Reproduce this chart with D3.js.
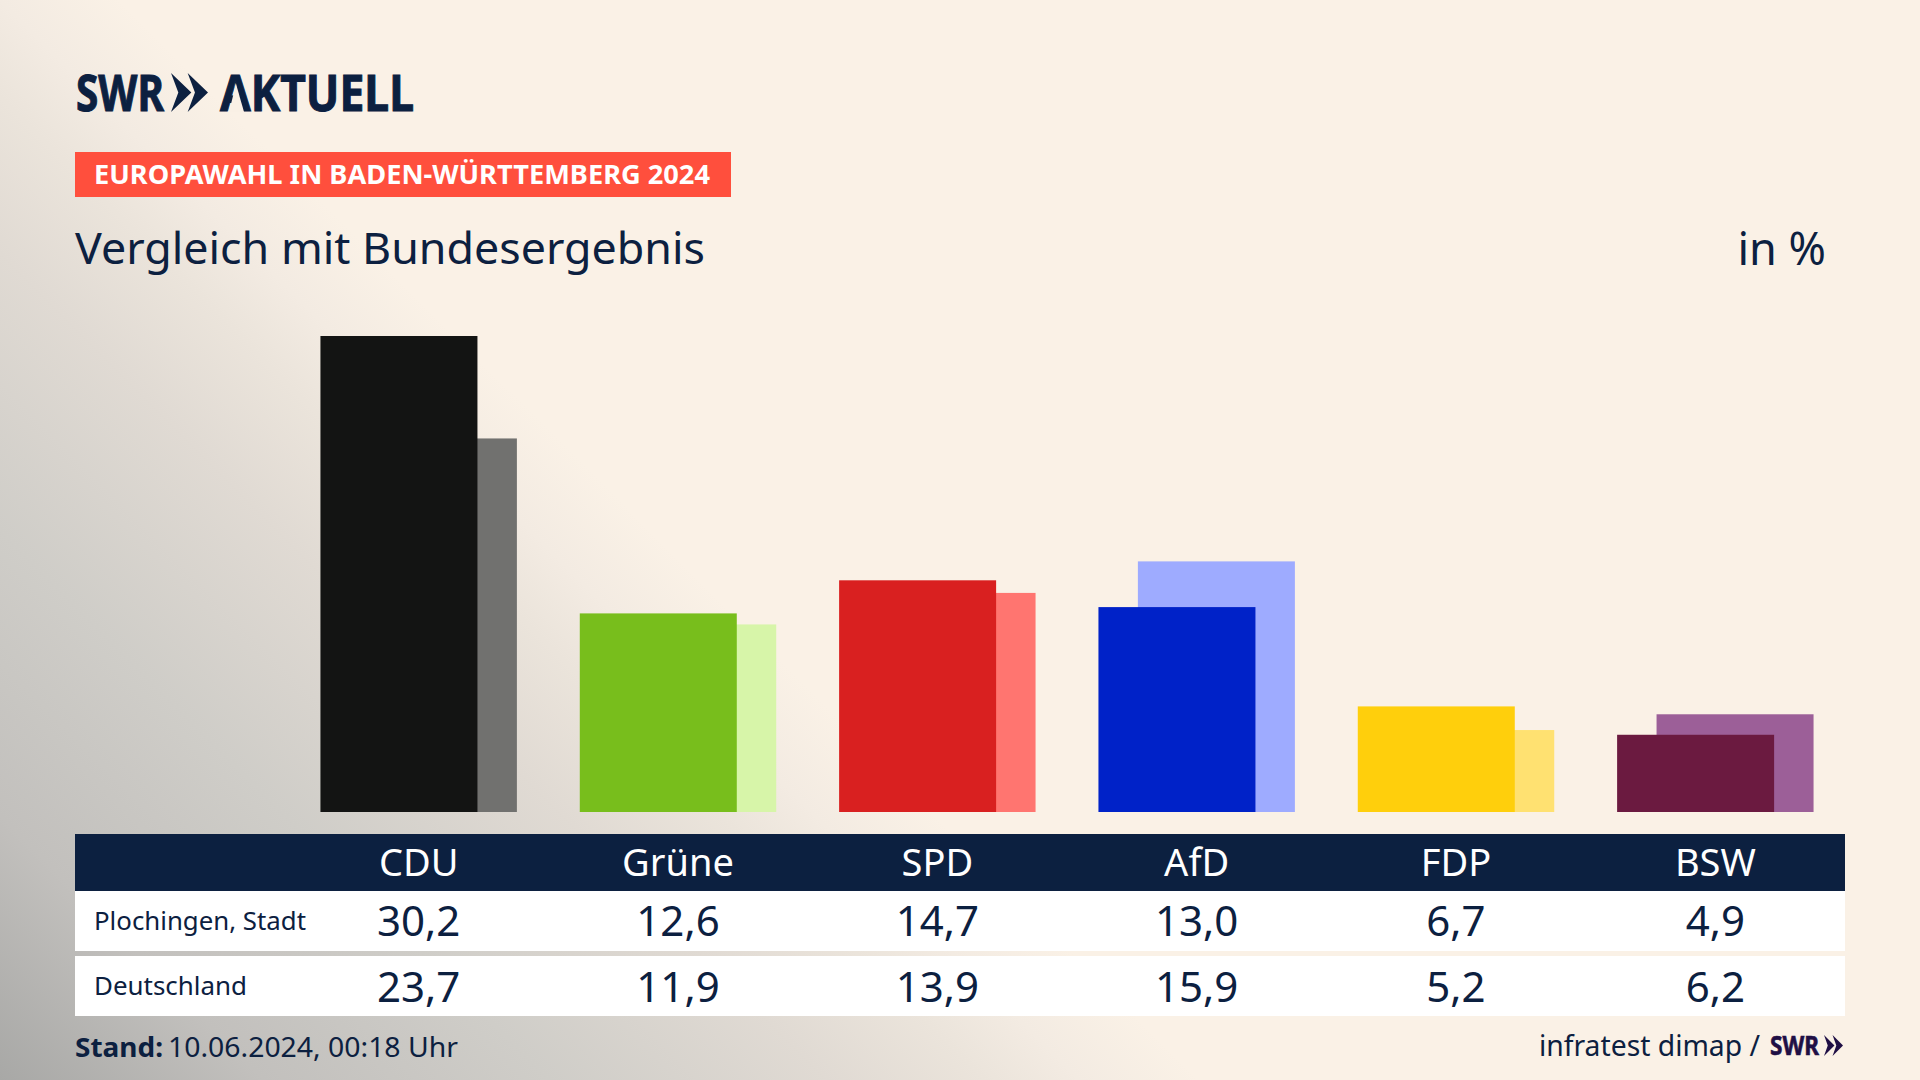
<!DOCTYPE html>
<html lang="de">
<head>
<meta charset="UTF-8">
<title>Europawahl in Baden-Württemberg 2024</title>
<script src="https://d3js.org/d3.v7.min.js"></script>
<style>
    html, body { margin: 0; padding: 0; background: #faf1e6; }
    svg { display: block; font-family: "Noto Sans", sans-serif; }
</style>
</head>
<body>
<svg id="chart" width="1920" height="1080"></svg>
<script>
    const parties = ["CDU", "Grüne", "SPD", "AfD", "FDP", "BSW"];
    const localName = "Plochingen, Stadt";
    const nationalName = "Deutschland";
    const localValues = [30.2, 12.6, 14.7, 13.0, 6.7, 4.9];
    const nationalValues = [23.7, 11.9, 13.9, 15.9, 5.2, 6.2];

    const darkColors = ["#131413", "#78be1c", "#d92020", "#0022c8", "#ffcf0c", "#6b1a40"];
    const lightColors = ["#71716f", "#d7f5a9", "#ff7570", "#9eabff", "#ffe171", "#9c5f98"];

    const navy = "#0c2040";
    const barWidth = 157;

    const svg = d3.select("#chart");
    const comma = d3.formatLocale({decimal: ",", thousands: ".", grouping: [3], currency: ["", "€"]}).format(".1f");

    // background, grey coming in diagonally from the bottom left
    const grad = svg.append("defs").append("linearGradient")
        .attr("id", "bg")
        .attr("gradientUnits", "userSpaceOnUse")
        .attr("x1", 0).attr("y1", 1080).attr("x2", 600).attr("y2", 480);
    [[0, "#a8a8a6"], [0.22, "#c2c0bd"], [0.458, "#cfcdc8"], [0.69, "#e0dad3"], [0.82, "#ebe4db"], [0.9, "#f3ebe2"], [1, "#faf1e6"]].forEach(s => {
        grad.append("stop").attr("offset", s[0]).attr("stop-color", s[1]);
    });
    svg.append("rect").attr("width", 1920).attr("height", 1080).attr("fill", "url(#bg)");

    const x = d3.scaleBand()
        .domain(parties)
        .range([289, 1845])
        .paddingInner(0.2425)
        .paddingOuter(0.12125);

    const y = d3.scaleLinear()
        .domain([0, 30.2])
        .range([812, 336]);

    const light = d3.scaleOrdinal(parties, lightColors);
    const dark = d3.scaleOrdinal(parties, darkColors);

    // national bars sit behind, shifted to the right edge of the band
    svg.append("g").selectAll("rect")
        .data(parties)
        .join("rect")
        .attr("x", d => x(d) + x.bandwidth() - barWidth)
        .attr("y", (d, i) => y(nationalValues[i]))
        .attr("width", barWidth)
        .attr("height", (d, i) => y(0) - y(nationalValues[i]))
        .attr("fill", d => light(d));

    svg.append("g").selectAll("rect")
        .data(parties)
        .join("rect")
        .attr("x", d => x(d))
        .attr("y", (d, i) => y(localValues[i]))
        .attr("width", barWidth)
        .attr("height", (d, i) => y(0) - y(localValues[i]))
        .attr("fill", d => dark(d));

    function label(parent, px, py, str, size, opts) {
        opts = opts || {};
        const t = parent.append("text")
            .attr("x", px).attr("y", py)
            .attr("font-size", size)
            .attr("fill", opts.fill || navy)
            .attr("font-weight", opts.weight || 400)
            .attr("text-anchor", opts.anchor || "start")
            .text(str);
        if (opts.fit) t.attr("textLength", opts.fit).attr("lengthAdjust", "spacingAndGlyphs");
        if (opts.heavy) t.attr("stroke", opts.fill || navy).attr("stroke-width", opts.heavy);
        return t;
    }

    // the two arrow heads of the SWR logo
    function chevrons(px, py, w, h, fill) {
        const one = w * 0.55;
        [0, w - one].forEach(dx => {
            svg.append("path")
                .attr("fill", fill)
                .attr("d", d3.line()([
                    [px + dx, py],
                    [px + dx + one, py + h / 2],
                    [px + dx, py + h],
                    [px + dx + one * 0.36, py + h / 2]
                ]) + "Z");
        });
    }

    // logo
    label(svg, 76, 111, "SWR", 50, {weight: 700, fit: 88, heavy: 1});
    chevrons(171, 73, 37, 39, navy);
    label(svg, 220, 111, "AKTUELL", 50, {weight: 700, fit: 194, heavy: 1});
    // the logo A has no crossbar
    svg.append("path").attr("fill", "#f9f0e5").attr("d", "M236,84L229,112H244Z");

    // banner and title
    svg.append("rect").attr("x", 75).attr("y", 152).attr("width", 656).attr("height", 45).attr("fill", "#ff4f3d");
    label(svg, 94, 184, "EUROPAWAHL IN BADEN-WÜRTTEMBERG 2024", 26, {weight: 700, fill: "#ffffff", fit: 616});
    label(svg, 75, 264, "Vergleich mit Bundesergebnis", 43, {fit: 630});
    label(svg, 1826, 265, "in %", 45, {anchor: "end"});

    // table
    svg.append("rect").attr("x", 75).attr("y", 834).attr("width", 1770).attr("height", 57).attr("fill", navy);
    svg.append("rect").attr("x", 75).attr("y", 891).attr("width", 1770).attr("height", 60).attr("fill", "#ffffff");
    svg.append("rect").attr("x", 75).attr("y", 956).attr("width", 1770).attr("height", 60).attr("fill", "#ffffff");

    const cx = d => x(d) + x.bandwidth() / 2;
    parties.forEach((p, i) => {
        label(svg, cx(p), 876, p, 38, {fill: "#ffffff", anchor: "middle"});
        label(svg, cx(p), 936, comma(localValues[i]), 42, {anchor: "middle"});
        label(svg, cx(p), 1002, comma(nationalValues[i]), 42, {anchor: "middle"});
    });
    label(svg, 94, 930, localName, 26, {fit: 212});
    label(svg, 94, 995, nationalName, 26, {fit: 153});

    // footer
    label(svg, 75, 1057, "Stand:", 27, {weight: 700, fit: 88});
    label(svg, 168, 1057, "10.06.2024, 00:18 Uhr", 27, {fit: 290});
    label(svg, 1539, 1056, "infratest dimap /", 29, {fit: 221});
    label(svg, 1770, 1055, "SWR", 26, {weight: 700, fill: "#1f0f45", fit: 49, heavy: 0.6});
    chevrons(1824, 1035, 19, 21, "#1f0f45");
</script>
</body>
</html>
